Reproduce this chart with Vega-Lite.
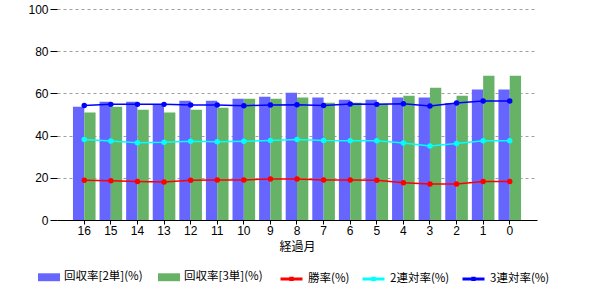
{
  "$schema": "https://vega.github.io/schema/vega-lite/v6.json",
  "width": 480,
  "height": 211,
  "autosize": "none",
  "padding": {"left": 57, "top": 9, "right": 63, "bottom": 80},
  "background": "white",
  "config": {
    "view": {"stroke": null},
    "font": "Liberation Sans",
    "axis": {"labelFont": "Liberation Sans", "labelFontSize": 12, "labelColor": "#000000", "titleFont": "Noto Sans CJK JP", "titleFontSize": 12, "titleFontWeight": "normal", "titleColor": "#000000"},
    "legend": {"labelFont": "Noto Sans CJK JP", "labelFontSize": 11.5, "labelColor": "#000000", "padding": 0}
  },
  "data": {
    "values": [
      {"m": 16, "r2": 53.7, "r3": 50.9, "win": 18.8, "ren2": 38.1, "ren3": 54.3},
      {"m": 15, "r2": 56.1, "r3": 53.7, "win": 18.6, "ren2": 37.4, "ren3": 54.8},
      {"m": 14, "r2": 56.1, "r3": 52.3, "win": 18.2, "ren2": 36.6, "ren3": 54.8},
      {"m": 13, "r2": 55.0, "r3": 50.9, "win": 18.0, "ren2": 36.8, "ren3": 54.8},
      {"m": 12, "r2": 56.5, "r3": 52.3, "win": 18.8, "ren2": 37.3, "ren3": 54.5},
      {"m": 11, "r2": 56.5, "r3": 53.2, "win": 19.0, "ren2": 37.1, "ren3": 54.5},
      {"m": 10, "r2": 57.5, "r3": 57.5, "win": 19.0, "ren2": 37.3, "ren3": 54.2},
      {"m": 9, "r2": 58.4, "r3": 57.5, "win": 19.4, "ren2": 37.7, "ren3": 54.5},
      {"m": 8, "r2": 60.3, "r3": 58.0, "win": 19.4, "ren2": 38.2, "ren3": 54.6},
      {"m": 7, "r2": 58.0, "r3": 55.6, "win": 19.0, "ren2": 37.7, "ren3": 54.3},
      {"m": 6, "r2": 57.0, "r3": 55.6, "win": 19.0, "ren2": 37.6, "ren3": 55.0},
      {"m": 5, "r2": 57.0, "r3": 55.1, "win": 18.8, "ren2": 37.6, "ren3": 54.8},
      {"m": 4, "r2": 58.0, "r3": 58.9, "win": 17.7, "ren2": 36.5, "ren3": 55.1},
      {"m": 3, "r2": 58.0, "r3": 62.7, "win": 17.1, "ren2": 35.1, "ren3": 54.0},
      {"m": 2, "r2": 55.5, "r3": 58.9, "win": 17.1, "ren2": 36.3, "ren3": 55.5},
      {"m": 1, "r2": 61.8, "r3": 68.4, "win": 18.3, "ren2": 37.6, "ren3": 56.4},
      {"m": 0, "r2": 61.8, "r3": 68.4, "win": 18.3, "ren2": 37.6, "ren3": 56.4}
    ]
  },
  "encoding": {
    "x": {
      "field": "m", "type": "ordinal", "sort": "descending",
      "scale": {"paddingInner": 0.15, "paddingOuter": 0.6},
      "axis": {"title": "経過月", "labelAngle": 0, "domainColor": "#000000", "tickColor": "#000000", "tickSize": 4, "labelPadding": 1, "titlePadding": 5, "grid": false}
    }
  },
  "layer": [
    {
      "transform": [{"fold": ["r2", "r3"], "as": ["bs", "bv"]}],
      "mark": {"type": "bar"},
      "encoding": {
        "xOffset": {"field": "bs", "type": "nominal", "sort": ["r2", "r3"], "scale": {"paddingInner": 0, "paddingOuter": 0}},
        "y": {
          "field": "bv", "type": "quantitative",
          "scale": {"domain": [0, 100], "nice": false},
          "axis": {"title": null, "values": [0, 20, 40, 60, 80, 100], "domain": false, "tickColor": "#000000", "tickSize": 7, "labelPadding": 2, "grid": true, "gridColor": "#a0a0a0", "gridDash": [3, 3]}
        },
        "fill": {
          "field": "bs", "type": "nominal",
          "scale": {"domain": ["r2", "r3"], "range": ["#6666ff", "#66b266"]},
          "legend": {
            "orient": "none", "legendX": -19, "legendY": 257, "direction": "horizontal", "columns": 2,
            "title": null, "symbolType": "M-1,-0.36H1V0.36H-1Z", "symbolSize": 484, "symbolStrokeWidth": 0,
            "labelOffset": 4, "columnPadding": 15,
            "labelExpr": "datum.value == 'r2' ? '回収率[2単](%)' : '回収率[3単](%)'"
          }
        }
      }
    },
    {
      "transform": [{"fold": ["win", "ren2", "ren3"], "as": ["ls", "lv"]}],
      "mark": {"type": "line", "strokeWidth": 1.5},
      "encoding": {
        "y": {"field": "lv", "type": "quantitative"},
        "color": {
          "field": "ls", "type": "nominal",
          "scale": {"domain": ["win", "ren2", "ren3"], "range": ["#ff0000", "#00ffff", "#0000ff"]},
          "legend": {
            "orient": "none", "legendX": 222, "legendY": 257, "direction": "horizontal", "columns": 3,
            "title": null, "symbolType": "M-1,0H1M-0.06,-0.06H0.06V0.06H-0.06Z", "symbolSize": 484, "symbolStrokeWidth": 3,
            "labelOffset": 4, "columnPadding": 6,
            "labelExpr": "datum.value == 'win' ? '勝率(%)' : datum.value == 'ren2' ? '2連対率(%)' : '3連対率(%)'"
          }
        }
      }
    },
    {
      "transform": [{"fold": ["win", "ren2", "ren3"], "as": ["ls", "lv"]}],
      "mark": {"type": "point", "filled": true, "size": 30, "opacity": 1, "shape": "circle"},
      "encoding": {
        "y": {"field": "lv", "type": "quantitative"},
        "color": {"field": "ls", "type": "nominal"}
      }
    }
  ]
}
